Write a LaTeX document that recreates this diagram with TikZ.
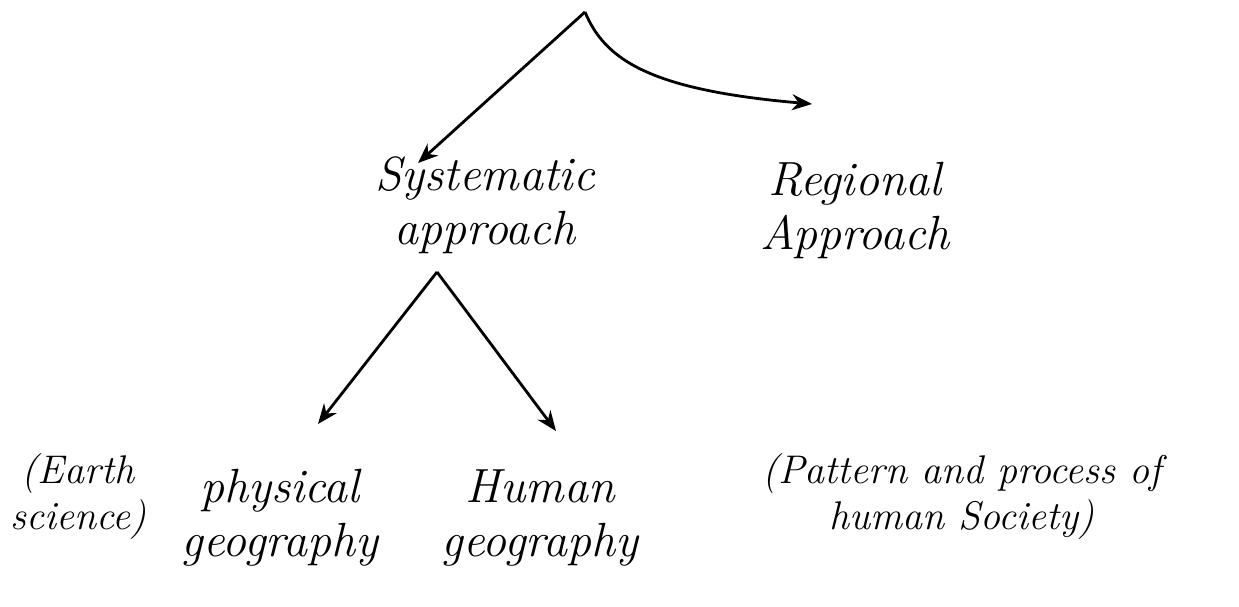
\documentclass[tikz,border=0pt]{standalone}
\usetikzlibrary{arrows.meta}
\begin{document}
\begin{tikzpicture}[x=1pt,y=-1pt,
  lbl/.style={font=\fontsize{48}{54}\selectfont\itshape, align=center, inner sep=1pt},
  note/.style={font=\fontsize{40}{46}\selectfont\itshape, align=center, inner sep=1pt},
  conn/.style={line width=2.8pt, -{Stealth[length=20pt,width=16pt]}}]
\useasboundingbox (0,0) rectangle (1239,607);
\fill[white] (0,0) rectangle (1239,607);
\coordinate (top) at (585,12);
\node[lbl] (sys) at (485,205) {Systematic\\approach};
\node[lbl] (reg) at (855,210) {Regional\\Approach};
\coordinate (sysapex) at (437,272);
\node[lbl] (phys) at (280,518) {physical\\geography};
\node[lbl] (hum) at (540,518) {Human\\geography};
\node[note] (earth) at (78,497) {(Earth\\science)};
\node[note] (pat) at (962,497) {(Pattern and process of\\human Society)};
\draw[conn] (top) -- (418,163);
\draw[conn] (top) .. controls (605,60) and (650,90) .. (812,104);
\draw[conn] (sysapex) -- (318,424);
\draw[conn] (sysapex) -- (556,431);
\end{tikzpicture}
\end{document}
